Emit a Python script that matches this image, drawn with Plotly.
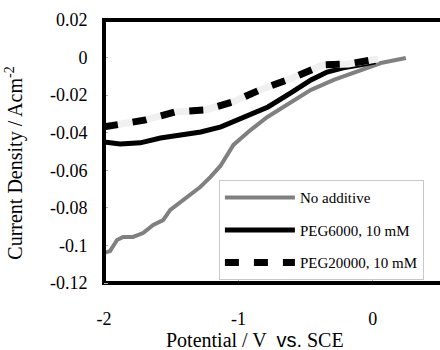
import plotly.graph_objects as go

# ---- data ----
x_none = [-2.000, -1.955, -1.903, -1.858, -1.784, -1.709, -1.634, -1.560, -1.507, -1.433,
          -1.358, -1.284, -1.209, -1.134, -1.037, -0.910, -0.784, -0.664, -0.463, -0.291,
          -0.090, 0.060, 0.246]
y_none = [-0.1040, -0.1030, -0.0971, -0.0955, -0.0955, -0.0934, -0.0891, -0.0865, -0.0811, -0.0769,
          -0.0732, -0.0689, -0.0636, -0.0577, -0.0465, -0.0386, -0.0316, -0.0263, -0.0173, -0.0119,
          -0.0066, -0.0029, -0.0002]

x_peg6000 = [-2.00, -1.88, -1.73, -1.58, -1.43, -1.28, -1.13, -0.96, -0.78, -0.61,
             -0.46, -0.34, -0.22, -0.09, 0.02]
y_peg6000 = [-0.0449, -0.0460, -0.0454, -0.0428, -0.0412, -0.0396, -0.0369, -0.0321, -0.0263, -0.0188,
             -0.0119, -0.0077, -0.0055, -0.0039, -0.0023]

x_peg20000 = [-2.00, -1.69, -1.47, -1.25, -1.04, -0.84, -0.60, -0.37, -0.18, 0.04]
y_peg20000 = [-0.0369, -0.0332, -0.0289, -0.0279, -0.0236, -0.0172, -0.0109, -0.0039, -0.0034, -0.0007]

names = ["No additive", "PEG6000, 10 mM", "PEG20000, 10 mM"]
y_ticks = [0.02, 0, -0.02, -0.04, -0.06, -0.08, -0.1, -0.12]
y_tick_text = ["0.02", "0", "-0.02", "-0.04", "-0.06", "-0.08", "-0.1", "-0.12"]
x_ticks = [-2, -1, 0]
x_tick_text = ["-2", "-1", "0"]

SERIF = "Liberation Serif"

fig = go.Figure()
fig.add_trace(go.Scatter(x=x_none, y=y_none, mode="lines", name=names[0],
                         legendgroup="a",
                         line=dict(color="#808080", width=4)))
fig.add_trace(go.Scatter(x=x_peg6000, y=y_peg6000, mode="lines", name=names[1],
                         legendgroup="b",
                         line=dict(color="#000000", width=5)))
fig.add_trace(go.Scatter(x=x_peg20000, y=y_peg20000, mode="lines", name=names[2],
                         legendgroup="c", showlegend=False,
                         line=dict(color="#f0f0f0", width=7)))
fig.add_trace(go.Scatter(x=x_peg20000, y=y_peg20000, mode="lines", name=names[2],
                         legendgroup="c",
                         line=dict(color="#000000", width=7, dash="14px,15px")))

fig.update_layout(
    width=440, height=350, autosize=False,
    margin=dict(l=104, r=0, t=20, b=67),
    paper_bgcolor="white", plot_bgcolor="white",
    font=dict(family=SERIF, size=17, color="black"),
    showlegend=True,
    legend=dict(x=0.342, y=0.01, xanchor="left", yanchor="bottom",
                bgcolor="white", bordercolor="#c8c8c8", borderwidth=1,
                font=dict(family=SERIF, size=15, color="black"),
                itemwidth=70, tracegroupgap=10, traceorder="grouped"),
    xaxis=dict(range=[-2, 0.5], tickvals=x_ticks, ticktext=x_tick_text,
               showgrid=False, zeroline=False,
               showline=True, linecolor="black", linewidth=2, mirror=True,
               ticks="outside", ticklen=18, tickcolor="white",
               minor=dict(ticks="inside", tickvals=x_ticks, ticklen=4,
                          tickcolor="#b0b0b0", showgrid=False),
               tickfont=dict(family=SERIF, size=18)),
    yaxis=dict(range=[-0.12, 0.02], tickvals=y_ticks, ticktext=y_tick_text,
               showgrid=False, zeroline=False,
               showline=True, linecolor="black", linewidth=2,
               ticks="outside", ticklen=11, tickcolor="white",
               minor=dict(ticks="inside", tickvals=y_ticks, ticklen=4,
                          tickcolor="#b0b0b0", showgrid=False),
               tickfont=dict(family=SERIF, size=18)),
    annotations=[
        # plot frame (top, left, bottom edges; right edge falls outside the page)
        dict(text=" ", xref="paper", yref="paper", x=0, y=1,
             xanchor="left", yanchor="top", showarrow=False,
             width=345, height=259, borderpad=0, borderwidth=2,
             bordercolor="black", bgcolor="rgba(0,0,0,0)"),
        dict(text="Current Density / Acm<sup>-2</sup>", xref="paper", yref="paper",
             x=-0.31, y=0.455, textangle=-90, showarrow=False,
             font=dict(family=SERIF, size=20)),
        dict(text='Potential / V  <span style="font-family:Liberation Sans">vs.</span> SCE',
             xref="paper", yref="paper", x=0.45, y=-0.265, showarrow=False,
             font=dict(family=SERIF, size=20)),
    ],
)

fig.write_html(
    "out.html",
    config={"responsive": False, "displayModeBar": False},
    post_script="document.body.style.margin='0';document.documentElement.style.overflow='hidden';document.body.style.overflow='hidden';",
)
